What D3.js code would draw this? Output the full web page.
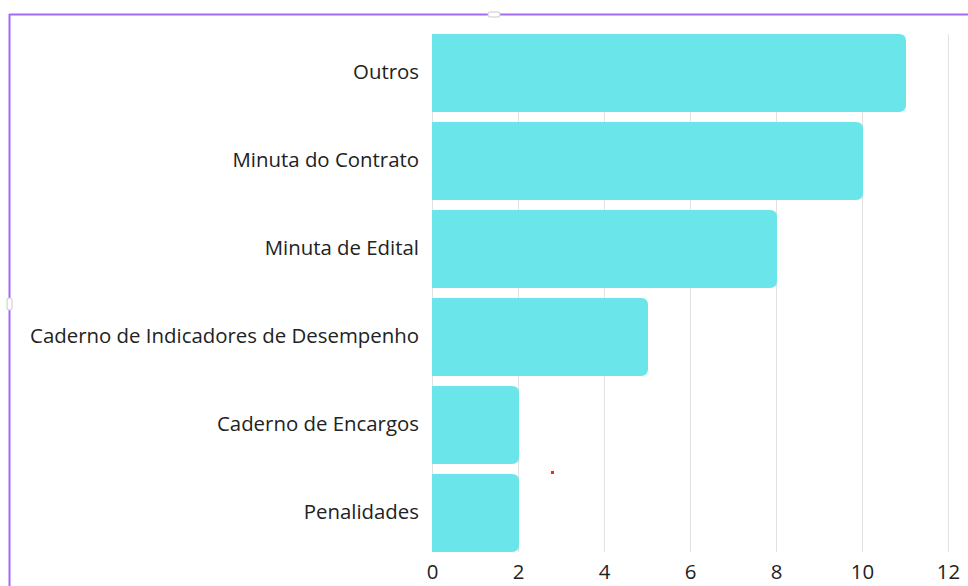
<!DOCTYPE html>
<html>
<head>
<meta charset="utf-8">
<script src="https://cdn.jsdelivr.net/npm/d3@7"></script>
<style>
  body { margin: 0; background: #fff; }
  svg { display: block; }
</style>
</head>
<body>
<div id="chart"></div>
<script>
var categories = ['Outros', 'Minuta do Contrato', 'Minuta de Edital',
    'Caderno de Indicadores de Desempenho', 'Caderno de Encargos', 'Penalidades'];
var values = [11, 10, 8, 5, 2, 2];
var tickValues = [0, 2, 4, 6, 8, 10, 12];

var W = 968, H = 586;
var svg = d3.select('#chart').append('svg')
    .attr('width', W)
    .attr('height', H);

// editor frame (purple selection lines)
svg.append('line').attr('x1', 9).attr('x2', W).attr('y1', 14.5).attr('y2', 14.5)
    .attr('stroke', '#a46af7').attr('stroke-width', 2);
svg.append('line').attr('x1', 9.5).attr('x2', 9.5).attr('y1', 14).attr('y2', H)
    .attr('stroke', '#a46af7').attr('stroke-width', 2);
svg.append('rect').attr('x', 488).attr('y', 12).attr('width', 12).attr('height', 5).attr('rx', 2)
    .attr('fill', '#fff').attr('stroke', '#c8c8d0').attr('stroke-width', 1);
svg.append('rect').attr('x', 7).attr('y', 298).attr('width', 5).attr('height', 12).attr('rx', 2)
    .attr('fill', '#fff').attr('stroke', '#c8c8d0').attr('stroke-width', 1);

var x = d3.scaleLinear()
    .domain([0, 12])
    .range([432, 948]);

var y = d3.scaleBand()
    .domain(categories)
    .range([29, 557])
    .paddingInner(10 / 88)
    .paddingOuter(5 / 88);

var plotTop = y(categories[0]),
    plotBottom = y(categories[categories.length - 1]) + y.bandwidth();

// gridlines
svg.append('g')
    .selectAll('line')
    .data(tickValues)
    .enter()
    .append('line')
    .attr('x1', function (d) { return Math.round(x(d)) + 0.5; })
    .attr('x2', function (d) { return Math.round(x(d)) + 0.5; })
    .attr('y1', plotTop)
    .attr('y2', plotBottom)
    .attr('stroke', '#e2e2e2')
    .attr('stroke-width', 1);

function barPath(x0, y0, w, h, r) {
    r = Math.min(r, w, h / 2);
    return 'M' + x0 + ',' + y0 +
        'H' + (x0 + w - r) +
        'Q' + (x0 + w) + ',' + y0 + ' ' + (x0 + w) + ',' + (y0 + r) +
        'V' + (y0 + h - r) +
        'Q' + (x0 + w) + ',' + (y0 + h) + ' ' + (x0 + w - r) + ',' + (y0 + h) +
        'H' + x0 + 'Z';
}

svg.append('g')
    .selectAll('path')
    .data(categories)
    .enter()
    .append('path')
    .attr('d', function (d, i) {
        return barPath(x(0), y(d), x(values[i]) - x(0) + 1, y.bandwidth(), 7);
    })
    .attr('fill', '#6ae5e9');

// category labels
var yAxis = svg.append('g')
    .attr('transform', 'translate(' + (x(0) - 13) + ',-1)')
    .call(d3.axisLeft(y).tickSize(0).tickPadding(0));
yAxis.select('.domain').remove();
yAxis.selectAll('text')
    .attr('font-family', 'Open Sans, Noto Sans, sans-serif')
    .attr('font-size', '20.4px')
    .attr('fill', '#222');

// value axis
var xAxis = svg.append('g')
    .attr('transform', 'translate(0,' + (plotBottom + 5) + ')')
    .call(d3.axisBottom(x).tickValues(tickValues).tickSize(0).tickPadding(8));
xAxis.select('.domain').remove();
xAxis.selectAll('text')
    .attr('font-family', 'Open Sans, Noto Sans, sans-serif')
    .attr('font-size', '20.4px')
    .attr('fill', '#222');

// stray marker
svg.append('rect').attr('x', 551).attr('y', 471).attr('width', 3).attr('height', 3)
    .attr('fill', '#ff2020');
</script>
</body>
</html>
